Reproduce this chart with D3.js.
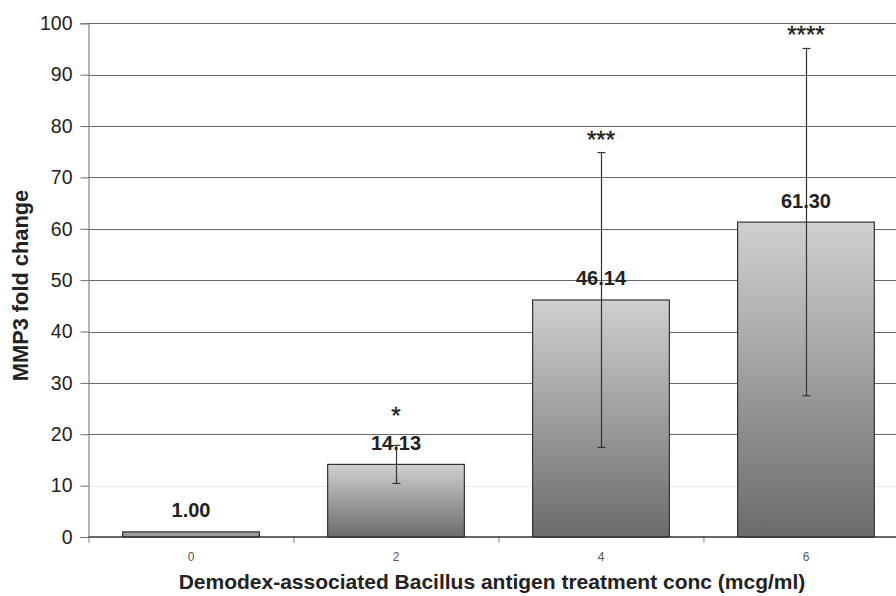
<!DOCTYPE html>
<html>
<head>
<meta charset="utf-8">
<script src="https://cdn.jsdelivr.net/npm/d3@7"></script>
<style>
  html, body { margin: 0; padding: 0; background: #fff; }
  svg { display: block; font-family: "Liberation Sans", Arial, sans-serif; }
</style>
</head>
<body>
<svg id="chart" width="896" height="596"></svg>
<script>
// MMP3 fold change by antigen concentration
const categories = ["0", "2", "4", "6"];
const foldChange = [1.00, 14.13, 46.14, 61.30];
const errorSD = [0, 3.7, 28.7, 33.8];
const significance = ["", "*", "***", "****"];
const yTicks = [0, 10, 20, 30, 40, 50, 60, 70, 80, 90, 100];

const svg = d3.select("#chart");
const plotLeft = 88.5, plotRight = 908.5, plotTop = 23.3, plotBottom = 537;

const x = d3.scaleBand()
  .domain(categories)
  .range([plotLeft, plotRight])
  .paddingInner(0.333)
  .paddingOuter(0.1667);

const y = d3.scaleLinear().domain([0, 100]).range([plotBottom, plotTop]);

// bar gradient
const defs = svg.append("defs");
const grad = defs.append("linearGradient")
  .attr("id", "barGrad")
  .attr("x1", 0).attr("y1", 0).attr("x2", 0).attr("y2", 1);
grad.append("stop").attr("offset", "0%").attr("stop-color", "#d0d0d2");
grad.append("stop").attr("offset", "100%").attr("stop-color", "#6b6b6d");

// horizontal gridlines
svg.append("g")
  .selectAll("line")
  .data(yTicks.filter(t => t > 0))
  .join("line")
  .attr("x1", plotLeft).attr("x2", plotRight)
  .attr("y1", d => Math.round(y(d)) + 0.5)
  .attr("y2", d => Math.round(y(d)) + 0.5)
  .attr("stroke", d => d === 10 ? "#e6e6e6" : "#686868")
  .attr("stroke-width", 1);

// y axis
const yAxis = svg.append("g")
  .attr("transform", `translate(${plotLeft},0)`)
  .call(d3.axisLeft(y).tickValues(yTicks).tickSize(8).tickPadding(8));
yAxis.select(".domain").attr("stroke", "#6a6a6a");
yAxis.selectAll(".tick line").attr("stroke", "#6a6a6a");
yAxis.selectAll(".tick text")
  .attr("font-size", 19.5)
  .attr("fill", "#222")
  .attr("font-family", "'Liberation Sans', Arial, sans-serif");

// x axis: boundary ticks between categories, category labels
const step = x.step();
const gx = svg.append("g");
gx.selectAll("line.btick")
  .data(d3.range(categories.length + 1))
  .join("line")
  .attr("class", "btick")
  .attr("x1", i => plotLeft + i * step + 0.5)
  .attr("x2", i => plotLeft + i * step + 0.5)
  .attr("y1", plotBottom)
  .attr("y2", plotBottom + 6)
  .attr("stroke", "#888");
gx.selectAll("text")
  .data(categories)
  .join("text")
  .attr("x", d => x(d) + x.bandwidth() / 2)
  .attr("y", 561)
  .attr("text-anchor", "middle")
  .attr("font-size", 12)
  .attr("fill", "#555")
  .text(d => d);

// bars
svg.append("g")
  .selectAll("rect")
  .data(categories)
  .join("rect")
  .attr("x", d => x(d))
  .attr("width", x.bandwidth())
  .attr("y", (d, i) => y(foldChange[i]))
  .attr("height", (d, i) => plotBottom - y(foldChange[i]))
  .attr("fill", (d, i) => i === 0 ? "#9c9c9e" : "url(#barGrad)")
  .attr("stroke", "#333")
  .attr("stroke-width", 1.2);

// x axis baseline
svg.append("line")
  .attr("x1", plotLeft).attr("x2", plotRight)
  .attr("y1", plotBottom).attr("y2", plotBottom)
  .attr("stroke", "#333").attr("stroke-width", 1.5);

// error bars
const eb = svg.append("g").attr("stroke", "#333").attr("stroke-width", 1.2);
categories.forEach((c, i) => {
  if (!errorSD[i]) return;
  const cx = Math.round(x(c) + x.bandwidth() / 2) + 0.5;
  const hi = y(foldChange[i] + errorSD[i]);
  const lo = y(foldChange[i] - errorSD[i]);
  eb.append("line").attr("x1", cx).attr("x2", cx).attr("y1", hi).attr("y2", lo);
  eb.append("line").attr("x1", cx - 4).attr("x2", cx + 4).attr("y1", hi).attr("y2", hi);
  eb.append("line").attr("x1", cx - 4).attr("x2", cx + 4).attr("y1", lo).attr("y2", lo);
});

// value labels
const labelBaseline = i => y(foldChange[i]) - 14.5;
svg.append("g")
  .selectAll("text")
  .data(categories)
  .join("text")
  .attr("x", d => x(d) + x.bandwidth() / 2)
  .attr("y", (d, i) => labelBaseline(i))
  .attr("text-anchor", "middle")
  .attr("font-size", 20)
  .attr("font-weight", "bold")
  .attr("fill", "#222")
  .text((d, i) => foldChange[i].toFixed(2));

// significance stars, kept above both the error bar and the value label
svg.append("g")
  .selectAll("text")
  .data(categories)
  .join("text")
  .attr("x", d => x(d) + x.bandwidth() / 2)
  .attr("y", (d, i) => Math.min(y(foldChange[i] + errorSD[i]) - 5, labelBaseline(i) - 26))
  .attr("text-anchor", "middle")
  .attr("font-size", 24)
  .attr("fill", "#222")
  .attr("stroke", "#222")
  .attr("stroke-width", 0.4)
  .text((d, i) => significance[i]);

// axis titles
svg.append("text")
  .attr("x", 492)
  .attr("y", 589)
  .attr("text-anchor", "middle")
  .attr("font-size", 21)
  .attr("font-weight", "bold")
  .attr("fill", "#222")
  .text("Demodex-associated Bacillus antigen treatment conc (mcg/ml)");

svg.append("text")
  .attr("transform", "translate(28,285.5) rotate(-90)")
  .attr("text-anchor", "middle")
  .attr("font-size", 21.8)
  .attr("font-weight", "bold")
  .attr("fill", "#222")
  .text("MMP3 fold change");
</script>
</body>
</html>
